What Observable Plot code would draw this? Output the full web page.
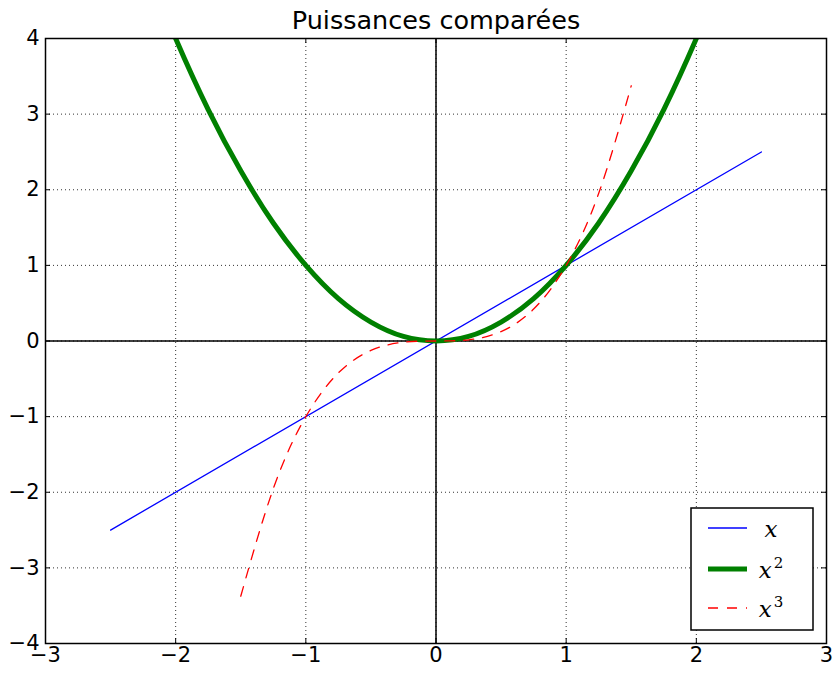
<!DOCTYPE html>
<html>
<head>
<meta charset="utf-8">
<script src="https://cdn.jsdelivr.net/npm/d3@7"></script>
<script src="https://cdn.jsdelivr.net/npm/@observablehq/plot@0.6"></script>
<style>
  html, body { margin: 0; padding: 0; background: #fff; }
  #chart { width: 835px; height: 675px; }
</style>
</head>
<body>
<div id="chart"></div>
<script>
const title = "Puissances comparées";
const xTicks = [-3, -2, -1, 0, 1, 2, 3];
const yTicks = [-4, -3, -2, -1, 0, 1, 2, 3, 4];

// Series x
const linX = [-2.5, 2.5];
const linY = [-2.5, 2.5];

// Series x^2
const sqX = [-2.5, -2.25, -2, -1.75, -1.5, -1.25, -1, -0.75, -0.5, -0.25, 0, 0.25, 0.5, 0.75, 1, 1.25, 1.5, 1.75, 2, 2.25, 2.5];
const sqY = [6.25, 5.06, 4, 3.06, 2.25, 1.56, 1, 0.56, 0.25, 0.06, 0, 0.06, 0.25, 0.56, 1, 1.56, 2.25, 3.06, 4, 5.06, 6.25];

// Series x^3
const cuX = [-1.5, -1.25, -1, -0.75, -0.5, -0.25, 0, 0.25, 0.5, 0.75, 1, 1.25, 1.5];
const cuY = [-3.375, -1.953, -1, -0.422, -0.125, -0.016, 0, 0.016, 0.125, 0.422, 1, 1.953, 3.375];

const legendLabels = ["x", "x", "x"];
const legendSups = ["", "2", "3"];
const colors = ["#0000ff", "#008000", "#ff0000"];

const lin = linX.map((x, i) => ({x, y: linY[i]}));
const sq = sqX.map((x, i) => ({x, y: sqY[i]}));
const cu = cuX.map((x, i) => ({x, y: cuY[i]}));

const font = "DejaVu Sans, sans-serif";
const fmt = d => (d < 0 ? "\u2212" + Math.abs(d) : String(d));
const dash = "10,9";

const chart = Plot.plot({
  width: 835,
  height: 675,
  marginLeft: 45,
  marginRight: 9,
  marginTop: 38,
  marginBottom: 32,
  style: {fontFamily: font, fontSize: "21px", color: "#000", background: "#fff", overflow: "visible"},
  x: {domain: [-3, 3], label: null},
  y: {domain: [-4, 4], label: null},
  marks: [
    // grid
    Plot.ruleX(xTicks, {x: d => d, stroke: "#000", strokeWidth: 1, strokeDasharray: "1,3", strokeOpacity: 0.8}),
    Plot.ruleY(yTicks, {y: d => d, stroke: "#000", strokeWidth: 1, strokeDasharray: "1,3", strokeOpacity: 0.8}),
    // axes lines at 0
    Plot.ruleX([0], {stroke: "#000", strokeWidth: 1.5}),
    Plot.ruleY([0], {stroke: "#000", strokeWidth: 1.5}),
    // inward ticks
    Plot.ruleX(xTicks, {x: d => d, y1: -4, y2: -4, insetTop: -5, stroke: "#000"}),
    Plot.ruleX(xTicks, {x: d => d, y1: 4, y2: 4, insetBottom: -5, stroke: "#000"}),
    Plot.ruleY(yTicks, {y: d => d, x1: -3, x2: -3, insetRight: -5, stroke: "#000"}),
    Plot.ruleY(yTicks, {y: d => d, x1: 3, x2: 3, insetLeft: -5, stroke: "#000"}),
    // series
    Plot.line(lin, {x: "x", y: "y", stroke: colors[0], strokeWidth: 1.3, clip: true}),
    Plot.line(sq, {x: "x", y: "y", stroke: colors[1], strokeWidth: 5, curve: "natural", clip: true}),
    Plot.line(cu, {x: "x", y: "y", stroke: colors[2], strokeWidth: 1.3, curve: "natural", strokeDasharray: dash, clip: true}),
    // frame
    Plot.frame({stroke: "#000", strokeWidth: 1.5}),
    // axes labels
    Plot.axisX(xTicks, {tickSize: 0, tickPadding: 4, fontSize: 21, tickFormat: fmt, label: null}),
    Plot.axisY(yTicks, {tickSize: 0, tickPadding: 6, fontSize: 21, tickFormat: fmt, label: null}),
    // title
    Plot.text([title], {frameAnchor: "top", dy: -10, lineAnchor: "bottom", text: d => d, fontSize: 25.5, fill: "#000"})
  ]
});

document.getElementById("chart").appendChild(chart);

// Legend (lower right)
const svg = d3.select(chart);
const lx = 691, ly = 508, lw = 122, lh = 122;
const g = svg.append("g");
g.append("rect").attr("x", lx).attr("y", ly).attr("width", lw).attr("height", lh)
  .attr("fill", "#fff").attr("stroke", "#000").attr("stroke-width", 1.5);
const rowY = [528, 569, 608];
const widths = [1.3, 5, 1.3];
const dashes = [null, null, dash];
legendLabels.forEach((lab, i) => {
  const line = g.append("line").attr("x1", 708).attr("x2", 747).attr("y1", rowY[i]).attr("y2", rowY[i])
    .attr("stroke", colors[i]).attr("stroke-width", widths[i]);
  if (dashes[i]) line.attr("stroke-dasharray", dashes[i]);
  const t = g.append("text").attr("x", 771).attr("y", rowY[i] + 9)
    .attr("font-family", "DejaVu Serif, serif").attr("font-style", "italic").attr("font-size", 23).attr("fill", "#000")
    .text(lab);
  if (legendSups[i]) {
    t.append("tspan").attr("dy", -10).attr("dx", 2).attr("font-size", 15).attr("font-style", "normal").text(legendSups[i]);
  }
});
</script>
</body>
</html>
